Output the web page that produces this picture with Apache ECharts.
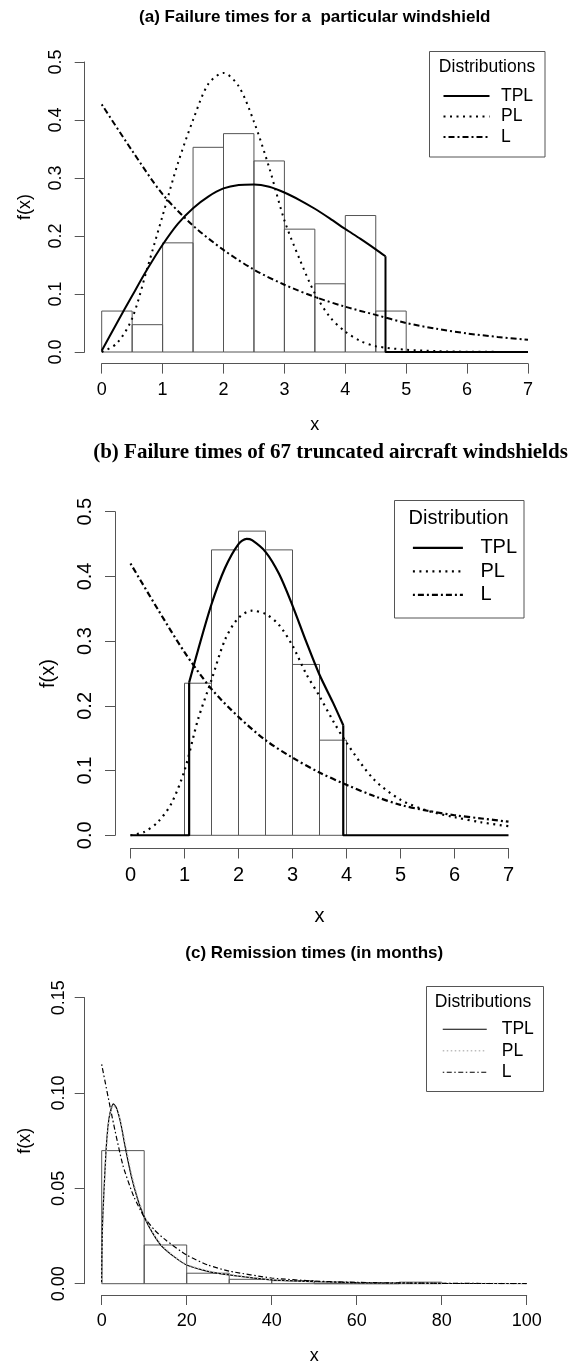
<!DOCTYPE html>
<html>
<head>
<meta charset="utf-8">
<script src="https://cdn.jsdelivr.net/npm/echarts@6/dist/echarts.min.js"></script>
<style>
  html,body{margin:0;padding:0;background:#fff;}
  #main{width:574px;height:1365px;}
</style>
</head>
<body>
<div id="main"></div>
<script>
// ---- (a) windshield failure times ----
const binsA = [0, 0.5, 1, 1.5, 2, 2.5, 3, 3.5, 4, 4.5, 5];
const histA = [0.0706, 0.0471, 0.1882, 0.3529, 0.3765, 0.3294, 0.2118, 0.1176, 0.2353, 0.0706];
const xTplA = [0, 0.25, 0.5, 0.75, 1, 1.25, 1.5, 1.75, 2, 2.25, 2.5, 2.75, 3, 3.25, 3.5, 3.75, 4, 4.25, 4.5, 4.66];
const yTplA = [0.002, 0.05, 0.097, 0.143, 0.185, 0.221, 0.248, 0.268, 0.282, 0.288, 0.289, 0.285, 0.275, 0.262, 0.247, 0.23, 0.212, 0.195, 0.177, 0.165];
const cutA = [4.66, 0.165];
const xPlA = [0, 0.25, 0.5, 0.75, 1, 1.25, 1.5, 1.75, 2, 2.25, 2.5, 2.75, 3, 3.25, 3.5, 3.75, 4, 4.25, 4.5, 5, 5.5, 6, 7];
const yPlA = [0, 0.015, 0.058, 0.145, 0.235, 0.325, 0.4, 0.462, 0.481, 0.458, 0.397, 0.318, 0.227, 0.16, 0.101, 0.06, 0.035, 0.019, 0.01, 0.004, 0.0015, 0.0005, 0];
const xLA = [0, 0.5, 1, 1.5, 2, 2.5, 3, 3.5, 4, 4.5, 5, 5.5, 6, 6.5, 7];
const yLA = [0.427, 0.347, 0.272, 0.218, 0.176, 0.142, 0.116, 0.095, 0.078, 0.064, 0.05, 0.04, 0.032, 0.026, 0.021];

// ---- (b) 67 truncated aircraft windshields ----
const binsB = [1, 1.5, 2, 2.5, 3, 3.5, 4];
const histB = [0.235, 0.441, 0.470, 0.441, 0.264, 0.147];
const xTplB = [1.086, 1.25, 1.5, 1.75, 2, 2.15, 2.25, 2.5, 2.75, 3, 3.25, 3.5, 3.75, 3.94];
const yTplB = [0.236, 0.286, 0.357, 0.413, 0.45, 0.458, 0.456, 0.438, 0.404, 0.355, 0.3, 0.248, 0.205, 0.17];
const lowB = [1.086, 0.236];
const cutB = [3.94, 0.17];
const xPlB = [0, 0.25, 0.5, 0.75, 1, 1.25, 1.5, 1.75, 2, 2.25, 2.5, 2.75, 3, 3.25, 3.5, 3.75, 4, 4.5, 5, 5.5, 6, 6.5, 7];
const yPlB = [0, 0.005, 0.02, 0.048, 0.1, 0.179, 0.24, 0.302, 0.336, 0.347, 0.342, 0.325, 0.293, 0.25, 0.215, 0.177, 0.143, 0.087, 0.055, 0.038, 0.028, 0.02, 0.014];
const xLB = [0, 0.5, 1, 1.5, 2, 2.5, 3, 3.5, 4, 4.5, 5, 5.5, 6, 6.5, 7];
const yLB = [0.42, 0.35, 0.283, 0.226, 0.183, 0.147, 0.12, 0.097, 0.078, 0.061, 0.047, 0.038, 0.031, 0.026, 0.021];

// ---- (c) remission times ----
const binsC = [0, 10, 20, 30, 40, 50, 60, 70, 80];
const histC = [0.0698, 0.0203, 0.0055, 0.0023, 0.0016, 0, 0, 0.0008];
const xTplC = [0, 0.15, 0.5, 1, 1.5, 2, 2.75, 3.5, 4.5, 5.5, 7, 8.5, 10, 12, 14, 17, 20, 25, 30, 40, 50, 60, 80, 100];
const yTplC = [0, 0.028, 0.047, 0.069, 0.083, 0.09, 0.0943, 0.092, 0.084, 0.072, 0.056, 0.044, 0.035, 0.0265, 0.02, 0.0142, 0.0098, 0.0065, 0.0046, 0.002, 0.0011, 0.0006, 0.0002, 0];
const xPlC = [0, 0.15, 0.5, 1, 1.5, 2, 2.75, 3.5, 4.5, 5.5, 7, 8.5, 10, 12, 14, 17, 20, 25, 30, 40, 50, 60, 80, 100];
const yPlC = [0, 0.025, 0.045, 0.067, 0.081, 0.089, 0.0935, 0.0915, 0.085, 0.074, 0.058, 0.045, 0.036, 0.027, 0.0205, 0.0145, 0.0101, 0.0067, 0.0047, 0.0021, 0.0011, 0.0006, 0.0002, 0];
const xLC = [0, 2.5, 5, 7.5, 10, 12.5, 15, 20, 25, 30, 40, 50, 60, 80, 100];
const yLC = [0.115, 0.087, 0.062, 0.046, 0.035, 0.028, 0.023, 0.015, 0.0098, 0.0066, 0.003, 0.0014, 0.0007, 0.0002, 0.00005];

const titles = ['(a) Failure times for a  particular windshield', '(b) Failure times of 67 truncated aircraft windshields', '(c) Remission times (in months)'];
const legendNames = ['TPL', 'PL', 'L'];

// ============ chart ============
const SANS = '"Liberation Sans", Arial, sans-serif';
const SERIF = '"Liberation Serif", "Times New Roman", serif';
const AX = '#555';
const INK = '#000';

const pts = (xs, ys) => xs.map((x, i) => [x, ys[i]]);

function hist(idx, edges, dens){
  return {
    type:'custom', xAxisIndex:idx, yAxisIndex:idx, silent:true, z:1,
    dimensions:['x0','x1','h'], encode:{ x:[0,1], y:2 },
    data: dens.map((h, i) => [edges[i], edges[i+1], h]),
    renderItem:(p, api) => {
      const a = api.coord([api.value(0), api.value(2)]);
      const b = api.coord([api.value(1), 0]);
      return { type:'rect', shape:{ x:a[0], y:a[1], width:b[0]-a[0], height:b[1]-a[1] },
        style:{ fill:'none', stroke:AX, lineWidth:1 } };
    }
  };
}
function line(idx, name, data, ls, smooth){
  return { type:'line', name, xAxisIndex:idx, yAxisIndex:idx, data, symbol:'none',
    smooth: smooth, z:3, silent:true, animation:false, lineStyle: ls };
}
function xAxis(idx, max, interval, fs, off, margin, gap){
  return {
    type:'value', gridIndex:idx, min:0, max, interval, offset:off,
    name:'x', nameLocation:'middle', nameGap:gap,
    nameTextStyle:{ fontFamily:SANS, fontSize:fs, color:INK },
    axisLine:{ show:true, onZero:false, lineStyle:{ color:AX, width:1 } },
    axisTick:{ show:true, length:10, lineStyle:{ color:AX } },
    axisLabel:{ fontFamily:SANS, fontSize:fs, color:INK, margin },
    splitLine:{ show:false }
  };
}
function yAxis(idx, max, interval, dec, fs, off, margin, gap){
  return {
    type:'value', gridIndex:idx, min:0, max, interval, offset:off,
    name:'f(x)', nameLocation:'middle', nameGap:gap,
    nameTextStyle:{ fontFamily:SANS, fontSize:fs, color:INK },
    axisLine:{ show:true, onZero:false, lineStyle:{ color:AX, width:1 } },
    axisTick:{ show:true, length:10, lineStyle:{ color:AX } },
    axisLabel:{ fontFamily:SANS, fontSize:fs, color:INK, margin, rotate:90, formatter:v => v.toFixed(dec) },
    splitLine:{ show:false }
  };
}
function legend(p, left, top, w, fs, lh, pad){
  return {
    data: legendNames.map(n => p + '-' + n), orient:'vertical', left, top, padding:0,
    itemGap:0, itemWidth:w, itemHeight:14, selectedMode:false,
    formatter: n => n.slice(2),
    itemStyle:{ opacity:0 }, lineStyle:{ width:'inherit' },
    textStyle:{ fontFamily:SANS, fontSize:fs, color:INK, lineHeight:lh, padding:[0,0,0,pad] }
  };
}
function legendBox(x, y, w, h, title, cx, cy, fs){
  return [
    { type:'rect', silent:true, shape:{ x, y, width:w, height:h }, style:{ fill:'none', stroke:AX, lineWidth:1 } },
    { type:'text', silent:true, x:cx, y:cy, style:{ text:title, fontFamily:SANS, fontSize:fs, fill:INK, align:'center', verticalAlign:'middle' } }
  ];
}

const dotA = [2, 4.5], dashDotA = [2, 3, 6, 3];
const solidA = { color:INK, width:2, type:'solid' };
const solidB = { color:INK, width:2.2, type:'solid' };

const chart = echarts.init(document.getElementById('main'), null, { renderer:'canvas' });
chart.setOption({
  animation:false,
  backgroundColor:'#fff',
  title:[
    { text:titles[0], left:314.8, top:8.5, textAlign:'center', padding:0,
      textStyle:{ fontFamily:SANS, fontSize:17, fontWeight:'bold', color:INK } },
    { text:titles[1], left:330.5, top:442.5, textAlign:'center', padding:0,
      textStyle:{ fontFamily:SERIF, fontSize:21, fontWeight:'bold', color:INK } },
    { text:titles[2], left:314.2, top:944.5, textAlign:'center', padding:0,
      textStyle:{ fontFamily:SANS, fontSize:17, fontWeight:'bold', color:INK } }
  ],
  grid:[
    { left:101.7, top:62, width:426.3, height:290, outerBoundsMode:'none' },
    { left:130.5, top:511.7, width:378, height:323.6, outerBoundsMode:'none' },
    { left:101.7, top:997.7, width:425, height:286, outerBoundsMode:'none' }
  ],
  xAxis:[
    xAxis(0, 7, 1, 18, 11.6, 17, 52),
    xAxis(1, 7, 1, 20, 13.2, 17, 58),
    xAxis(2, 100, 20, 18, 11.3, 17, 52)
  ],
  yAxis:[
    yAxis(0, 0.5, 0.1, 1, 18, 17, 20, 51),
    yAxis(1, 0.5, 0.1, 1, 20, 15.5, 20, 57),
    yAxis(2, 0.15, 0.05, 2, 18, 17, 17, 51)
  ],
  legend:[
    legend('a', 442.5, 85.75, 46, 17.5, 20.5, 6.5),
    legend('b', 411.8, 536.2, 50, 20, 23.5, 12.5),
    legend('c', 442, 1018.5, 44, 17.5, 21.5, 10)
  ],
  graphic:[
    ...legendBox(429.5, 51.5, 115.5, 105.5, 'Distributions', 487, 67, 17.5),
    ...legendBox(394.5, 500.5, 129.5, 117.5, 'Distribution', 458.6, 518, 20),
    ...legendBox(426.5, 986.5, 117, 105, 'Distributions', 483, 1002.3, 17.5)
  ],
  series:[
    hist(0, binsA, histA),
    line(0, 'a-TPL', pts(xTplA, yTplA), solidA, 0.3),
    line(0, 'a-TPL', [[cutA[0], cutA[1]], [cutA[0], 0], [7, 0]], solidA, false),
    line(0, 'a-PL', pts(xPlA, yPlA), { color:INK, width:2, type:dotA }, 0.3),
    line(0, 'a-L', pts(xLA, yLA), { color:INK, width:2, type:dashDotA }, 0.3),

    hist(1, binsB, histB),
    line(1, 'b-TPL', pts(xTplB, yTplB), solidB, 0.3),
    line(1, 'b-TPL', [[0, 0], [lowB[0], 0], [lowB[0], lowB[1]]], solidB, false),
    line(1, 'b-TPL', [[cutB[0], cutB[1]], [cutB[0], 0], [7, 0]], solidB, false),
    line(1, 'b-PL', pts(xPlB, yPlB), { color:INK, width:2.2, type:dotA }, 0.3),
    line(1, 'b-L', pts(xLB, yLB), { color:INK, width:2.2, type:dashDotA }, 0.3),

    hist(2, binsC, histC),
    line(2, 'c-TPL', pts(xTplC, yTplC), { color:INK, width:1.2, type:'solid' }, 0.2),
    line(2, 'c-PL', pts(xPlC, yPlC), { color:'#bdbdbd', width:1.5, type:[1.5, 2.5] }, 0.2),
    line(2, 'c-L', pts(xLC, yLC), { color:INK, width:1.2, type:[1.5, 2.5, 5, 2.5] }, 0.2)
  ]
});
</script>
</body>
</html>
